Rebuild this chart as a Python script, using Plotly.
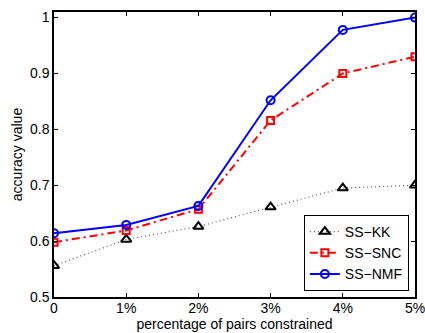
import plotly.graph_objects as go

x_vals = [0, 1, 2, 3, 4, 5]
x_labels = ["0", "1%", "2%", "3%", "4%", "5%"]
y_ticks = [0.5, 0.6, 0.7, 0.8, 0.9, 1.0]
y_labels = ["0.5", "0.6", "0.7", "0.8", "0.9", "1"]

ss_kk = [0.556, 0.603, 0.626, 0.661, 0.695, 0.700]
ss_snc = [0.598, 0.619, 0.657, 0.816, 0.900, 0.930]
ss_nmf = [0.614, 0.629, 0.663, 0.852, 0.978, 1.000]

fig = go.Figure()
fig.add_trace(go.Scatter(x=x_vals, y=ss_kk, name="SS\u2212KK", mode="lines+markers",
                         line=dict(color="#555555", width=1.2, dash="1px,3px"),
                         marker=dict(symbol="triangle-up-open", size=9, color="black", line=dict(width=2, color="black"))))
fig.add_trace(go.Scatter(x=x_vals, y=ss_snc, name="SS\u2212SNC", mode="lines+markers",
                         line=dict(color="red", width=2, dash="8px,4px,2px,4px"),
                         marker=dict(symbol="square-open", size=7, color="red", line=dict(width=2))))
fig.add_trace(go.Scatter(x=x_vals, y=ss_nmf, name="SS\u2212NMF", mode="lines+markers",
                         line=dict(color="blue", width=2),
                         marker=dict(symbol="circle-open", size=8, color="blue", line=dict(width=2))))

font = "Liberation Sans, Arial, sans-serif"
fig.update_layout(
    width=425, height=333,
    margin=dict(l=54, r=10, t=12, b=36),
    paper_bgcolor="white", plot_bgcolor="white",
    font=dict(family=font, size=14, color="black"),
    showlegend=True,
    legend=dict(x=0.983, y=0.021, xanchor="right", yanchor="bottom",
                bordercolor="black", borderwidth=1, bgcolor="white",
                font=dict(size=14), tracegroupgap=0, itemwidth=30),
    xaxis=dict(range=[0, 5], tickvals=x_vals, ticktext=x_labels, automargin=False,
               showgrid=False, zeroline=False, showline=True, linecolor="black", linewidth=1.5,
               mirror="ticks", ticks="inside", ticklen=4, tickcolor="black",
               ticklabelstandoff=-3, ticklabeloverflow="allow",
               title=dict(text="percentage of pairs constrained", standoff=0, font=dict(size=14))),
    yaxis=dict(range=[0.5, 1.01], tickvals=y_ticks, ticktext=y_labels, automargin=False,
               showgrid=False, zeroline=False, showline=True, linecolor="black", linewidth=1.5,
               mirror="ticks", ticks="inside", ticklen=4, tickcolor="black",
               ticklabeloverflow="allow",
               title=dict(text="accuracy value", standoff=4, font=dict(size=14))),
)
fig.write_html(
    "out.html",
    config={"displayModeBar": False},
    post_script="document.documentElement.style.overflow='hidden';document.body.style.margin='0px';document.body.style.overflow='hidden';",
)
